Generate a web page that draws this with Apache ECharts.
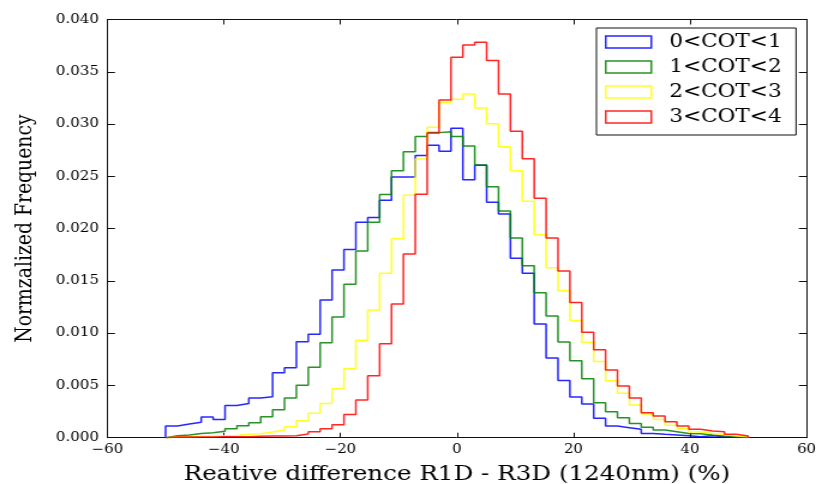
<!DOCTYPE html>
<html><head><meta charset="utf-8">
<script src="https://cdn.jsdelivr.net/npm/echarts@6/dist/echarts.min.js"></script>
<style>
html,body{margin:0;padding:0;background:#fff;overflow:hidden;}
#c{width:680px;height:484px;transform:scaleX(1.2);transform-origin:0 0;}
</style>
</head><body><div id="c"></div>
<script>
// ---- data ----
const binRange = [-50, 50];
const binCount = 49;
const seriesNames = ['0<COT<1', '1<COT<2', '2<COT<3', '3<COT<4'];
const cot01 = [0.00112,0.00131,0.00147,0.00198,0.00175,0.00309,0.00328,0.00379,0.00392,0.00622,0.0067,0.00918,0.00989,0.01317,0.01604,0.01799,0.0206,0.02105,0.0227,0.02494,0.02494,0.02698,0.02797,0.02739,0.02959,0.02468,0.02605,0.02251,0.0214,0.01716,0.01572,0.01087,0.00762,0.00548,0.00389,0.00322,0.00185,0.00112,0.00096,0.0008,0.00041,0.00032,0.00026,0.00019,0.0001,0.00019,0.0001,0.00006,0.00003];
const cot12 = [0.00019,0.00026,0.00041,0.00048,0.00061,0.00086,0.00115,0.00144,0.00201,0.00268,0.00379,0.00501,0.00673,0.00909,0.01154,0.01467,0.01786,0.0206,0.02325,0.02554,0.02736,0.0288,0.02918,0.02927,0.0288,0.0279,0.02608,0.02401,0.02168,0.0191,0.01645,0.01387,0.01164,0.00915,0.00737,0.00564,0.00335,0.00249,0.00191,0.00137,0.00099,0.00073,0.00057,0.00041,0.00038,0.00026,0.00016,0.0001,0.00006];
const cot23 = [0.0001,0.0001,0.00013,0.00016,0.00019,0.00022,0.00032,0.00038,0.00054,0.00073,0.00105,0.00163,0.00233,0.00328,0.00469,0.0066,0.00931,0.01221,0.01572,0.01904,0.02318,0.02666,0.02969,0.03205,0.03237,0.03288,0.03154,0.03004,0.02784,0.02554,0.02261,0.01942,0.01626,0.01406,0.01122,0.00912,0.0073,0.00545,0.00424,0.00313,0.00226,0.00175,0.00118,0.00086,0.00054,0.00041,0.00029,0.00016,0.0001];
const cot34 = [0.00006,0.00006,0.00006,0.00006,0.0001,0.0001,0.0001,0.00013,0.00016,0.00016,0.00019,0.00035,0.00057,0.00086,0.00124,0.00223,0.0036,0.00593,0.00899,0.01279,0.01757,0.02328,0.02915,0.0323,0.03639,0.03756,0.03782,0.03607,0.03288,0.02931,0.02669,0.0229,0.0191,0.01594,0.01292,0.01008,0.00842,0.00647,0.00494,0.00379,0.00239,0.00207,0.00153,0.00112,0.0008,0.00064,0.00057,0.00032,0.00016];
const xTicks = [-60, -40, -20, 0, 20, 40, 60];
const yTicks = [0, 0.005, 0.01, 0.015, 0.02, 0.025, 0.03, 0.035, 0.04];
const colors = ['#0000ff', '#008000', '#ffff00', '#ff0000'];

// ---- build ----
const FONT = 'DejaVu Serif';
const binEdges = [];
for (let i = 0; i <= binCount; i++) binEdges.push(binRange[0] + i * (binRange[1] - binRange[0]) / binCount);

function stepData(vals) {
  const pts = [[binEdges[0], 0]];
  vals.forEach((v, i) => { pts.push([binEdges[i], v]); pts.push([binEdges[i + 1], v]); });
  pts.push([binEdges[vals.length], 0]);
  return pts;
}
const allVals = [cot01, cot12, cot23, cot34];
const fmtX = v => (v < 0 ? '\u2212' + Math.abs(v) : String(v));
const frame = { show: true, onZero: false, lineStyle: { color: '#111', width: 1 } };

const chart = echarts.init(document.getElementById('c'), null, { renderer: 'canvas' });
chart.setOption({
  animation: false,
  backgroundColor: '#fff',
  grid: { left: 89.4, right: 7.9, top: 19.5, bottom: 46.3, containLabel: false, outerBoundsMode: 'none' },
  xAxis: [
    { type: 'value', min: xTicks[0], max: xTicks[xTicks.length - 1], interval: xTicks[1] - xTicks[0], position: 'bottom',
      axisLine: frame, axisTick: { inside: true, length: 5, lineStyle: { color: '#111' } },
      axisLabel: { formatter: fmtX, fontFamily: FONT, fontSize: 12.5, color: '#000', margin: 5.5 },
      splitLine: { show: false },
      name: 'Reative difference R1D - R3D (1240nm) (%)', nameLocation: 'middle', nameGap: 26.5,
      nameTextStyle: { fontFamily: FONT, fontSize: 20.5, color: '#000' } },
    { type: 'value', min: xTicks[0], max: xTicks[xTicks.length - 1], interval: xTicks[1] - xTicks[0], position: 'top',
      axisLine: frame, axisTick: { inside: true, length: 5, lineStyle: { color: '#111' } },
      axisLabel: { show: false }, splitLine: { show: false } }
  ],
  yAxis: [
    { type: 'value', min: yTicks[0], max: yTicks[yTicks.length - 1], interval: yTicks[1] - yTicks[0], position: 'left',
      axisLine: frame, axisTick: { inside: true, length: 6.4, lineStyle: { color: '#111' } },
      axisLabel: { formatter: v => v.toFixed(3), fontFamily: FONT, fontSize: 12.5, color: '#000', margin: 7 },
      splitLine: { show: false },
      name: 'Normzalized Frequency', nameLocation: 'middle', nameGap: 59, nameRotate: 90,
      nameTextStyle: { fontFamily: FONT, fontSize: 18.8, color: '#000' } },
    { type: 'value', min: yTicks[0], max: yTicks[yTicks.length - 1], interval: yTicks[1] - yTicks[0], position: 'right',
      axisLine: frame, axisTick: { inside: true, length: 6.4, lineStyle: { color: '#111' } },
      axisLabel: { show: false }, splitLine: { show: false } }
  ],
  legend: {
    orient: 'vertical', left: 497, top: 28, padding: [5, 12, 9, 7], itemGap: 7,
    itemWidth: 38, itemHeight: 12, borderColor: '#111', borderWidth: 1, backgroundColor: '#fff',
    textStyle: { fontFamily: FONT, fontSize: 18, color: '#000', lineHeight: 18, padding: [0, 0, 0, 10] },
    data: seriesNames.map((n, i) => ({ name: n, icon: 'rect',
      itemStyle: { color: 'rgba(0,0,0,0)', borderColor: colors[i], borderWidth: 1.5, opacity: 0.85 } }))
  },
  series: seriesNames.map((n, i) => ({
    name: n, type: 'line', xAxisIndex: 0, yAxisIndex: 0,
    data: stepData(allVals[i]), showSymbol: false, symbol: 'none',
    lineStyle: { color: colors[i], width: 1.5, opacity: 0.85 },
    itemStyle: { color: colors[i] }, z: 2 + i, silent: true
  }))
});
</script></body></html>
